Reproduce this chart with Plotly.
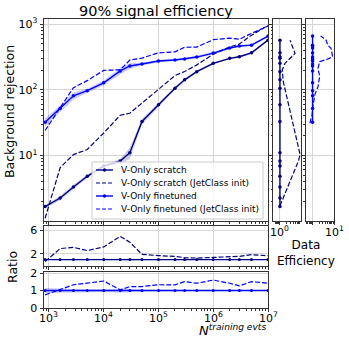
import plotly.graph_objects as go
import numpy as np

W, H = 349, 342


def fx(p):
    return p / W


def fy(p):
    return 1 - p / H


# ---- data ----
n_train = [850, 1600, 2800, 5000, 1e4, 2e4, 3e4, 5e4, 1e5, 2e5, 3e5, 5e5,
           1e6, 2e6, 3e6, 5e6, 1e7]

scratch = [1.66, 2.24, 3.3, 4.8, 6.9, 8.2, 11, 33, 59, 106, 142, 189,
           254, 302, 320, 367, 572]
scratch_err = [0.05, 0.08, 0.08, 0.06, 0.05, 0.08, 0.2, 0.1, 0.06, 0.05, 0.05,
               0.04, 0.04, 0.03, 0.03, 0.03, 0.03]
scratch_jc = [1.1, 6.5, 10.3, 12.3, 22, 41, 44, 63, 100, 165, 190, 240,
              350, 450, 500, 680, 955]

finetuned = [32, 52, 81, 97, 128, 194, 231, 248, 275, 285, 295, 316,
             363, 434, 465, 480, 660]
finetuned_err = [0.15, 0.12, 0.12, 0.08, 0.08, 0.12, 0.1, 0.05, 0.05, 0.04, 0.04,
                 0.05, 0.05, 0.03, 0.03, 0.03, 0.03]
finetuned_jc = [24, 54, 108, 138, 198, 202, 284, 305, 366, 379, 445, 449,
                581, 616, 590, 725, 937]

# data efficiency curves (right panels)
eff_scratch_jc = [1.0, 6.8, 8.1, 4.8, 3.4, 2.0, 1.41, 1.27, 1.69, 4.8, 2.85]
rej_scratch_jc = [1.7, 8.2, 10.3, 22, 37, 75, 134, 201, 254, 359, 572]
eff_finetuned_jc = [0.75, 0.95, 1.06, 1.27, 1.8, 2.15, 1.8, 2.15, 6.1, 8.6, 7.3,
                    5.1, 4.3, 2.38]
rej_finetuned_jc = [31, 42, 59, 84, 112, 160, 213, 268, 302, 320, 428, 480,
                    572, 665]

labels = ["V-Only scratch", "V-Only scratch (JetClass init)",
          "V-Only finetuned", "V-Only finetuned (JetClass init)"]

NAVY = "#000080"
BLUE = "#0000ff"
NAVY_BAND = "rgba(0,0,128,0.2)"
BLUE_BAND = "rgba(0,0,255,0.2)"
DASH = "5px,2px"

fig = go.Figure()


def band(x, y, err, color, xa, ya):
    lo = [v * (1 - e) for v, e in zip(y, err)]
    hi = [v * (1 + e) for v, e in zip(y, err)]
    fig.add_trace(go.Scatter(x=list(x) + list(x)[::-1], y=hi + lo[::-1],
                             fill="toself", fillcolor=color, line=dict(width=0),
                             mode="lines", hoverinfo="skip", showlegend=False,
                             xaxis=xa, yaxis=ya))


# main panel
band(n_train, scratch, scratch_err, NAVY_BAND, "x", "y")
band(n_train, finetuned, finetuned_err, BLUE_BAND, "x", "y")
fig.add_trace(go.Scatter(x=n_train, y=scratch, mode="lines+markers", name=labels[0],
                         line=dict(color=NAVY, width=1.4), marker=dict(size=3.5, color=NAVY)))
fig.add_trace(go.Scatter(x=n_train, y=scratch_jc, mode="lines", name=labels[1],
                         line=dict(color=NAVY, width=1.2, dash=DASH)))
fig.add_trace(go.Scatter(x=n_train, y=finetuned, mode="lines+markers", name=labels[2],
                         line=dict(color=BLUE, width=1.4), marker=dict(size=3.5, color=BLUE)))
fig.add_trace(go.Scatter(x=n_train, y=finetuned_jc, mode="lines", name=labels[3],
                         line=dict(color=BLUE, width=1.2, dash=DASH)))

# right panels: data efficiency
ones = [1.0] * len(n_train)
fig.add_trace(go.Scatter(x=ones, y=scratch, mode="lines+markers",
                         line=dict(color=NAVY, width=1.4), marker=dict(size=3.5, color=NAVY),
                         xaxis="x2", yaxis="y2"))
fig.add_trace(go.Scatter(x=eff_scratch_jc, y=rej_scratch_jc, mode="lines",
                         line=dict(color=NAVY, width=1.2, dash=DASH), xaxis="x2", yaxis="y2"))
fig.add_trace(go.Scatter(x=ones, y=finetuned, mode="lines+markers",
                         line=dict(color=BLUE, width=1.4), marker=dict(size=3.5, color=BLUE),
                         xaxis="x3", yaxis="y3"))
fig.add_trace(go.Scatter(x=eff_finetuned_jc, y=rej_finetuned_jc, mode="lines",
                         line=dict(color=BLUE, width=1.2, dash=DASH), xaxis="x3", yaxis="y3"))

# ratio panels
ratio_s = [a / b for a, b in zip(scratch_jc, scratch)]
ratio_f = [a / b for a, b in zip(finetuned_jc, finetuned)]
band(n_train, ones, scratch_err, NAVY_BAND, "x4", "y4")
fig.add_trace(go.Scatter(x=n_train, y=ones, mode="lines+markers",
                         line=dict(color=NAVY, width=1.4), marker=dict(size=3, color=NAVY),
                         xaxis="x4", yaxis="y4"))
fig.add_trace(go.Scatter(x=n_train, y=ratio_s, mode="lines",
                         line=dict(color=NAVY, width=1.2, dash=DASH), xaxis="x4", yaxis="y4"))
band(n_train, ones, finetuned_err, BLUE_BAND, "x5", "y5")
fig.add_trace(go.Scatter(x=n_train, y=ones, mode="lines+markers",
                         line=dict(color=BLUE, width=1.4), marker=dict(size=3, color=BLUE),
                         xaxis="x5", yaxis="y5"))
fig.add_trace(go.Scatter(x=n_train, y=ratio_f, mode="lines",
                         line=dict(color=BLUE, width=1.2, dash=DASH), xaxis="x5", yaxis="y5"))

# ---- axes ----
FONT = "DejaVu Sans"
minor_log = [m * 10 ** e for e in range(-1, 4) for m in range(2, 10)]
minor_n = [m * 10 ** e for e in range(2, 7) for m in range(2, 10)]
dec_exp = [3, 4, 5, 6, 7]
dec_n = [10 ** e for e in dec_exp]

common = dict(showline=True, linecolor="#333", linewidth=1, mirror=True, automargin=False,
              gridcolor="#d6d6d6", gridwidth=1, zeroline=False, ticks="outside",
              ticklen=3, tickcolor="#333", tickfont=dict(family=FONT, size=11, color="black"))

minor_style = dict(tickmode="array", ticks="outside", ticklen=1.5, tickcolor="#333",
                   showgrid=False)
main_x = [fx(43.5), fx(268)]
main_y = [fy(221), fy(19)]
ylog = dict(type="log", range=[0.0, 3.08], tickvals=[10, 100, 1000],
            minor=dict(tickvals=minor_log, **minor_style))
xlog_n = dict(type="log", range=[2.9, 7.0], tickvals=dec_n, showticklabels=False,
              minor=dict(tickvals=minor_n, **minor_style))

fig.update_layout(
    width=W, height=H, margin=dict(l=0, r=0, t=0, b=0, autoexpand=False),
    paper_bgcolor="white", plot_bgcolor="white",
    font=dict(family=FONT, size=11, color="black"),
    showlegend=False,
    xaxis=dict(domain=main_x, anchor="y", **xlog_n, **common),
    yaxis=dict(domain=main_y, anchor="x",
               ticktext=["10<sup>1</sup>", "10<sup>2</sup>", "10<sup>3</sup>"],
               **ylog, **common),
    xaxis2=dict(domain=[fx(273.3), fx(301)], anchor="y2", type="log", range=[-0.3, 0.95],
                tickvals=[1], showticklabels=False,
                minor=dict(tickvals=minor_log, **minor_style), **common),
    yaxis2=dict(domain=main_y, anchor="x2", showticklabels=False, **ylog, **common),
    xaxis3=dict(domain=[fx(305.7), fx(334)], anchor="y3", type="log", range=[-0.32, 1.0],
                tickvals=[1, 10], showticklabels=False,
                minor=dict(tickvals=minor_log, **minor_style), **common),
    yaxis3=dict(domain=main_y, anchor="x3", showticklabels=False, **ylog, **common),
    xaxis4=dict(domain=main_x, anchor="y4", **xlog_n, **common),
    yaxis4=dict(domain=[fy(266), fy(226)], anchor="x4", range=[-0.1, 6.8],
                tickvals=[2, 6], **common),
    xaxis5=dict(domain=main_x, anchor="y5", **xlog_n, **common),
    yaxis5=dict(domain=[fy(308), fy(271.7)], anchor="x5", range=[0, 2.08],
                tickvals=[0, 1, 2], **common),
)

# x tick labels written as annotations so they sit as close as matplotlib's
tick_font = dict(family=FONT, size=11, color="black")
for e in dec_exp:
    fig.add_annotation(text="10<sup>%d</sup>" % e, x=e, y=fy(307.5), xref="x5", yref="paper",
                       showarrow=False, xanchor="center", yanchor="top", font=tick_font)
fig.add_annotation(text="10<sup>0</sup>", x=0, y=fy(222), xref="x2", yref="paper",
                   showarrow=False, xanchor="center", yanchor="top", font=tick_font)
fig.add_annotation(text="10<sup>1</sup>", x=1, y=fy(222), xref="x3", yref="paper",
                   showarrow=False, xanchor="center", yanchor="top", font=tick_font)

# ---- legend drawn by hand (matplotlib-like compact box) ----
box_l, box_r, box_t, box_b = 92, 263, 162, 219
fig.add_shape(type="rect", xref="paper", yref="paper",
              x0=fx(box_l), x1=fx(box_r), y0=fy(box_b), y1=fy(box_t),
              fillcolor="rgba(255,255,255,0.8)", line=dict(color="#cccccc", width=1))
leg_style = [(NAVY, None, True), (NAVY, "dash", False), (BLUE, None, True), (BLUE, "dash", False)]
for k, (lab, (col, dash, mark)) in enumerate(zip(labels, leg_style)):
    yy = 170 + 13 * k
    fig.add_shape(type="line", xref="paper", yref="paper", x0=fx(96), x1=fx(113),
                  y0=fy(yy), y1=fy(yy),
                  line=dict(color=col, width=1.4 if mark else 1.2,
                            dash="4px,2px" if dash else None))
    if mark:
        fig.add_shape(type="circle", xref="paper", yref="paper", x0=fx(102.8), x1=fx(106.2),
                      y0=fy(yy + 1.7), y1=fy(yy - 1.7), fillcolor=col, line=dict(width=0))
    fig.add_annotation(text=lab, x=fx(119), y=fy(yy), xref="paper", yref="paper",
                       showarrow=False, xanchor="left", yanchor="middle",
                       font=dict(family=FONT, size=9))

# ---- text ----
fig.add_annotation(text="90% signal efficiency", x=fx(156), y=fy(11.5), xref="paper",
                   yref="paper", showarrow=False, xanchor="center", yanchor="middle",
                   font=dict(family=FONT, size=14.5))
fig.add_annotation(text="Background rejection", x=fx(9), y=fy(112), xref="paper",
                   yref="paper", showarrow=False, textangle=-90, xanchor="center",
                   yanchor="middle", font=dict(family=FONT, size=12.5))
fig.add_annotation(text="Ratio", x=fx(12), y=fy(267), xref="paper", yref="paper",
                   showarrow=False, textangle=-90, xanchor="center", yanchor="middle",
                   font=dict(family=FONT, size=12.5))
fig.add_annotation(text="Data<br>Efficiency", x=fx(306), y=fy(253), xref="paper",
                   yref="paper", showarrow=False, xanchor="center", yanchor="middle",
                   font=dict(family=FONT, size=12))
fig.add_annotation(text="<i>N</i><sup><i>training evts</i></sup>", x=fx(268), y=fy(330),
                   xref="paper", yref="paper", showarrow=False, xanchor="right",
                   yanchor="middle", font=dict(family=FONT, size=13))

# the page's default 8px body margin would push the figure off the window
fig.write_html("out.html", config={"displayModeBar": False},
               post_script="document.body.style.margin='0px';")
